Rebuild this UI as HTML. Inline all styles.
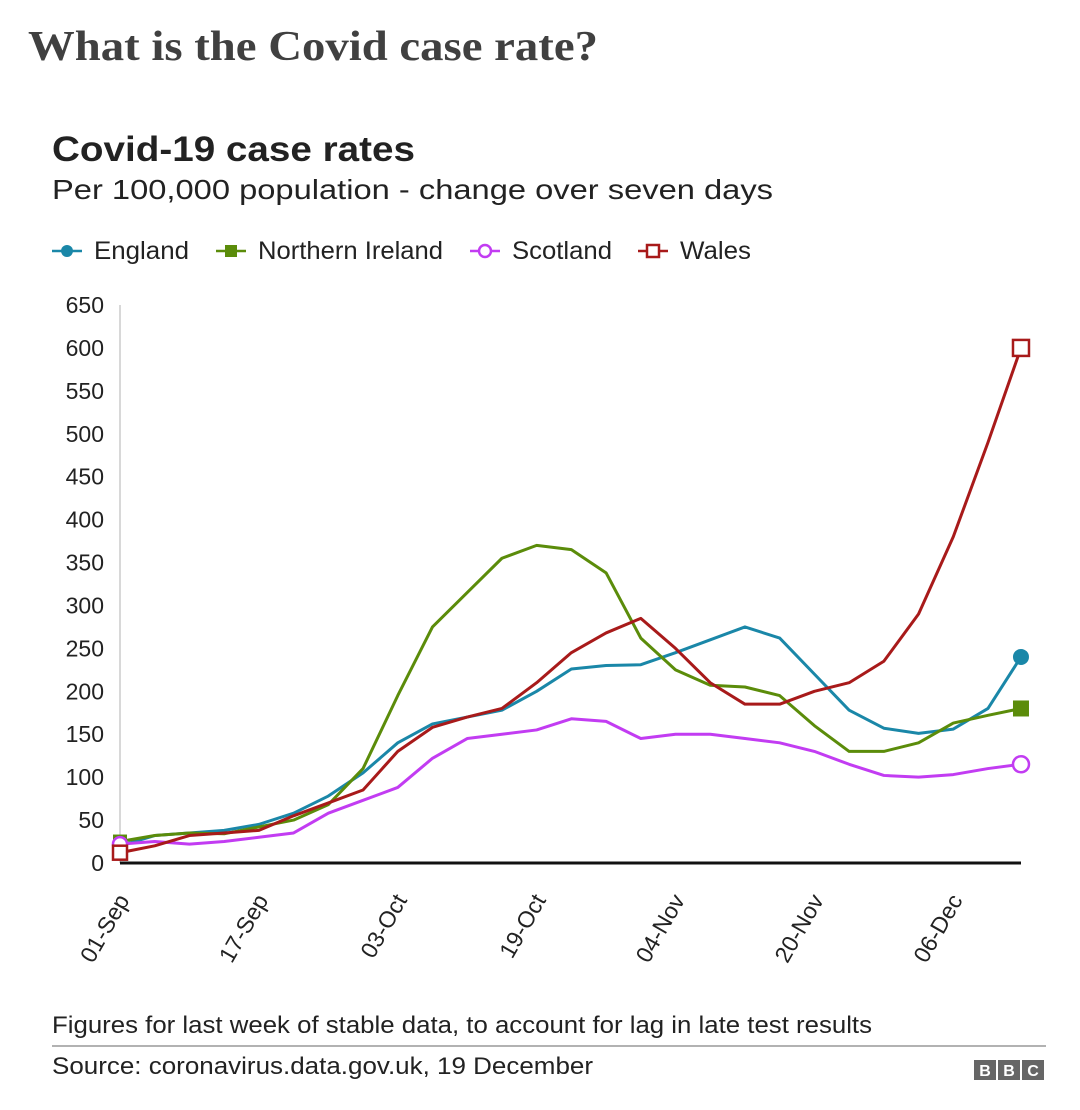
<!DOCTYPE html>
<html><head><meta charset="utf-8"><style>
body{margin:0;background:#fff;width:1080px;height:1105px;overflow:hidden;font-family:"Liberation Sans",sans-serif}
svg text{font-family:"Liberation Sans",sans-serif}
</style></head><body>
<svg id="c" width="1080" height="1105">
<text x="28" y="60" font-weight="bold" font-size="42" fill="#404040" textLength="570" lengthAdjust="spacingAndGlyphs" style="font-family:'Liberation Serif',serif">What is the Covid case rate?</text>
<text x="52" y="161" font-weight="bold" font-size="35" fill="#222" textLength="363" lengthAdjust="spacingAndGlyphs">Covid-19 case rates</text>
<text x="52" y="199" font-size="28" fill="#222" textLength="721" lengthAdjust="spacingAndGlyphs">Per 100,000 population - change over seven days</text>
<g id="legend"></g>
<g id="grid"></g><g id="lines"></g>
<text x="52" y="1033" font-size="24" fill="#222" textLength="820" lengthAdjust="spacingAndGlyphs">Figures for last week of stable data, to account for lag in late test results</text>
<line x1="52" y1="1046" x2="1046" y2="1046" stroke="#999" stroke-width="1.5"/>
<text x="52" y="1074" font-size="24" fill="#222" textLength="541" lengthAdjust="spacingAndGlyphs">Source: coronavirus.data.gov.uk, 19 December</text>
<g>
<rect x="974" y="1060" width="22" height="20" fill="#666"/><rect x="998" y="1060" width="22" height="20" fill="#666"/><rect x="1022" y="1060" width="22" height="20" fill="#666"/>
<text x="985" y="1076" font-size="16" font-weight="bold" fill="#fff" text-anchor="middle">B</text>
<text x="1009" y="1076" font-size="16" font-weight="bold" fill="#fff" text-anchor="middle">B</text>
<text x="1033" y="1076" font-size="16" font-weight="bold" fill="#fff" text-anchor="middle">C</text>
</g>
</svg>
<script>
const days=[0,4,8,12,16,20,24,28,32,36,40,44,48,52,56,60,64,68,72,76,80,84,88,92,96,100,103.8];
const england=[20,32,35,38,45,58,78,105,140,162,170,178,200,226,230,231,245,260,275,262,220,178,157,151,156,180,240];
const northernIreland=[25,32,35,34,42,50,68,110,195,275,315,355,370,365,338,262,225,207,205,195,160,130,130,140,163,172,180];
const scotland=[22,25,22,25,30,35,58,73,88,122,145,150,155,168,165,145,150,150,145,140,130,115,102,100,103,110,115];
const wales=[12,20,32,35,38,55,70,85,130,158,170,180,210,245,268,285,250,210,185,185,200,210,235,290,380,490,600];
const yTicks=[0,50,100,150,200,250,300,350,400,450,500,550,600,650];
const xTickLabels=["01-Sep","17-Sep","03-Oct","19-Oct","04-Nov","20-Nov","06-Dec"];
const xTickDays=[0,16,32,48,64,80,96];
const NS="http://www.w3.org/2000/svg";
const X=d=>120+d*8.68, Y=v=>863-v*(558/650);
function mk(tag,attrs,parent){const e=document.createElementNS(NS,tag);for(const k in attrs)e.setAttribute(k,attrs[k]);parent.appendChild(e);return e;}
const grid=document.getElementById('grid'),lines=document.getElementById('lines'),legend=document.getElementById('legend');
let vl=mk('line',{x1:120,y1:Y(650),x2:120,y2:863,stroke:'#ccc','stroke-width':1.5},grid);


yTicks.forEach(v=>{const t=mk('text',{x:104,y:Y(v)+8,'font-size':23,fill:'#222','text-anchor':'end'},grid);t.textContent=v;

});
xTickLabels.forEach((l,i)=>{const x=X(xTickDays[i])+10,y=900;const t=mk('text',{x:x,y:y,'font-size':23,fill:'#222','text-anchor':'end',transform:`rotate(-60 ${x} ${y})`},grid);t.textContent=l;

});
const series=[
{name:'England',data:england,color:'#1a87a8',marker:'circle',fill:true},
{name:'Northern Ireland',data:northernIreland,color:'#5b8c0a',marker:'square',fill:true},
{name:'Scotland',data:scotland,color:'#c23cf2',marker:'circle',fill:false},
{name:'Wales',data:wales,color:'#a81a1a',marker:'square',fill:false}];
function marker(s,x,y,r,parent){let m;
if(s.marker==='circle')m=mk('circle',{cx:x,cy:y,r:r,fill:s.fill?s.color:'#fff',stroke:s.color,'stroke-width':s.fill?0:2.5},parent);
else m=mk('rect',{x:x-r,y:y-r,width:2*r,height:2*r,fill:s.fill?s.color:'#fff',stroke:s.color,'stroke-width':s.fill?0:2.5},parent);return m;}
series.forEach(s=>{const p=mk('polyline',{points:s.data.map((v,i)=>X(days[i])+','+Y(v)).join(' '),fill:'none',stroke:s.color,'stroke-width':3,'stroke-linejoin':'round'},lines);

});
series.forEach(s=>{const m1=marker(s,X(days[0]),Y(s.data[0]),7,lines);


const n=s.data.length-1;const m2=marker(s,X(days[n]),Y(s.data[n]),8,lines);

});
const ax=mk('line',{x1:120,y1:863,x2:1021,y2:863,stroke:'#111','stroke-width':3},lines);


const lx=[52,216,470,638];
const tl=[95,185,100,71];
series.forEach((s,i)=>{const g=mk('g',{},legend);


mk('line',{x1:lx[i],y1:251,x2:lx[i]+30,y2:251,stroke:s.color,'stroke-width':2.5},g);
marker(s,lx[i]+15,251,6,g);
const t=mk('text',{x:lx[i]+42,y:259,'font-size':25,fill:'#222',textLength:tl[i],lengthAdjust:'spacingAndGlyphs'},g);t.textContent=s.name;});
</script>
</body></html>
